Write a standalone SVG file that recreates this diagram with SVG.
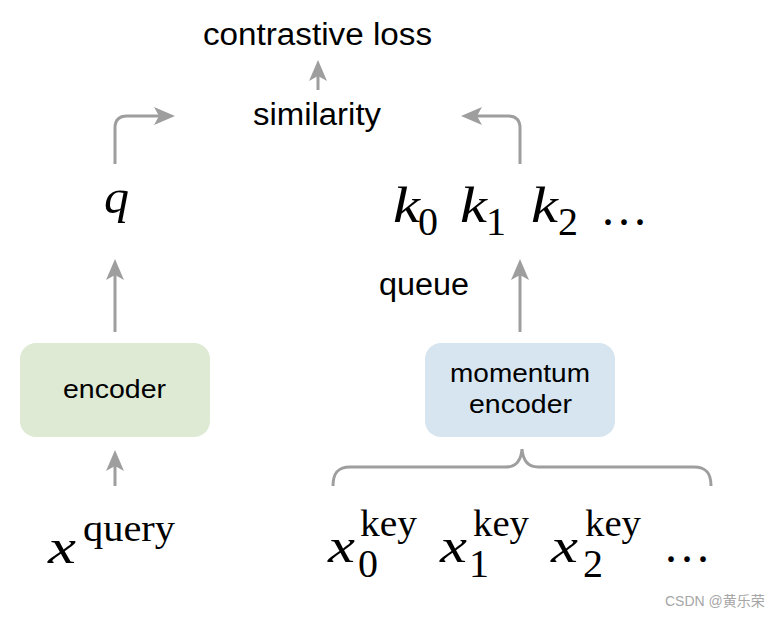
<svg xmlns="http://www.w3.org/2000/svg" width="779" height="618" viewBox="0 0 779 618">
<style>
.lbl{font-family:"Liberation Sans",Arial,sans-serif;fill:#000}
.mi{font-family:"Liberation Serif","Times New Roman",serif;font-style:italic;fill:#000}
.rm{font-family:"Liberation Serif","Times New Roman",serif;fill:#000}
.conn{fill:none;stroke:#9e9e9e;stroke-width:3}
.wm{font-family:"Liberation Sans","Noto Sans CJK SC",sans-serif;fill:#a6a6a6;font-size:14px}
</style>
<defs>
<marker id="ah" markerUnits="userSpaceOnUse" viewBox="-6 -10 23 20" refX="0" refY="0" markerWidth="23" markerHeight="20" orient="auto">
<path d="M16,0 L-5,-9 L0,0 L-5,9 Z" fill="#9e9e9e"/>
</marker>
</defs>
<rect width="779" height="618" fill="#fff"/>
<g id="connectors">
<path class="conn" d="M115,164 V128 Q115,116 127,116 H159" marker-end="url(#ah)"/>
<path class="conn" d="M520,164 V128 Q520,116 508,116 H477" marker-end="url(#ah)"/>
<path class="conn" d="M318,90 V76" marker-end="url(#ah)"/>
<path class="conn" d="M115,332 V275" marker-end="url(#ah)"/>
<path class="conn" d="M520,332 V275" marker-end="url(#ah)"/>
<path class="conn" d="M115,486 V466" marker-end="url(#ah)"/>
<path id="brace" class="conn" d="M333,486 C333,473 338,467 350,467 H506 C516,467 521,461 522,449 C523,461 528,467 538,467 H694 C706,467 711,473 711,486"/>
</g>
<g id="contrastive-loss"><text class="lbl" x="203" y="45" font-size="31" textLength="229" lengthAdjust="spacingAndGlyphs">contrastive loss</text></g>
<g id="similarity"><text class="lbl" x="253" y="125" font-size="31" textLength="128" lengthAdjust="spacingAndGlyphs">similarity</text></g>
<g id="q"><text class="mi" x="104" y="213" font-size="48" textLength="25" lengthAdjust="spacingAndGlyphs">q</text></g>
<g id="keys">
<text class="mi" x="393" y="222" font-size="50" textLength="27" lengthAdjust="spacingAndGlyphs">k</text>
<text class="rm" x="418" y="235" font-size="40">0</text>
<text class="mi" x="460" y="222" font-size="50" textLength="27" lengthAdjust="spacingAndGlyphs">k</text>
<text class="rm" x="486" y="235" font-size="40">1</text>
<text class="mi" x="531" y="222" font-size="50" textLength="27" lengthAdjust="spacingAndGlyphs">k</text>
<text class="rm" x="558" y="235" font-size="40">2</text>
<text class="rm" x="602" y="225" font-size="48" letter-spacing="4">...</text>
</g>
<g id="queue"><text class="lbl" x="379" y="295" font-size="31" textLength="90" lengthAdjust="spacingAndGlyphs">queue</text></g>
<g id="encoder">
<rect x="20" y="343" width="190" height="94" rx="16" fill="#deead4"/>
<text class="lbl" x="63" y="398" font-size="26" textLength="103" lengthAdjust="spacingAndGlyphs">encoder</text>
</g>
<g id="momentum-encoder">
<rect x="425" y="343" width="190" height="94" rx="16" fill="#d6e5f0"/>
<text class="lbl" x="450" y="382" font-size="26" textLength="140" lengthAdjust="spacingAndGlyphs">momentum</text>
<text class="lbl" x="469" y="413" font-size="26" textLength="103" lengthAdjust="spacingAndGlyphs">encoder</text>
</g>
<g id="x-query">
<text class="mi" x="48" y="563" font-size="48" textLength="28" lengthAdjust="spacingAndGlyphs">x</text>
<text class="rm" x="83" y="541" font-size="37" textLength="92" lengthAdjust="spacingAndGlyphs">query</text>
</g>
<g id="x-keys">
<text class="mi" x="328" y="562" font-size="48" textLength="27" lengthAdjust="spacingAndGlyphs">x</text>
<text class="rm" x="360" y="536" font-size="37" textLength="57" lengthAdjust="spacingAndGlyphs">key</text>
<text class="rm" x="358" y="577" font-size="40">0</text>
<text class="mi" x="440" y="562" font-size="48" textLength="27" lengthAdjust="spacingAndGlyphs">x</text>
<text class="rm" x="473" y="536" font-size="37" textLength="56" lengthAdjust="spacingAndGlyphs">key</text>
<text class="rm" x="469" y="577" font-size="40">1</text>
<text class="mi" x="551" y="562" font-size="48" textLength="27" lengthAdjust="spacingAndGlyphs">x</text>
<text class="rm" x="585" y="536" font-size="37" textLength="56" lengthAdjust="spacingAndGlyphs">key</text>
<text class="rm" x="583" y="577" font-size="40">2</text>
<text class="rm" x="665" y="562" font-size="48" letter-spacing="4">...</text>
</g>
<g id="watermark"><text class="wm" x="665" y="606">CSDN @黄乐荣</text></g>
</svg>
